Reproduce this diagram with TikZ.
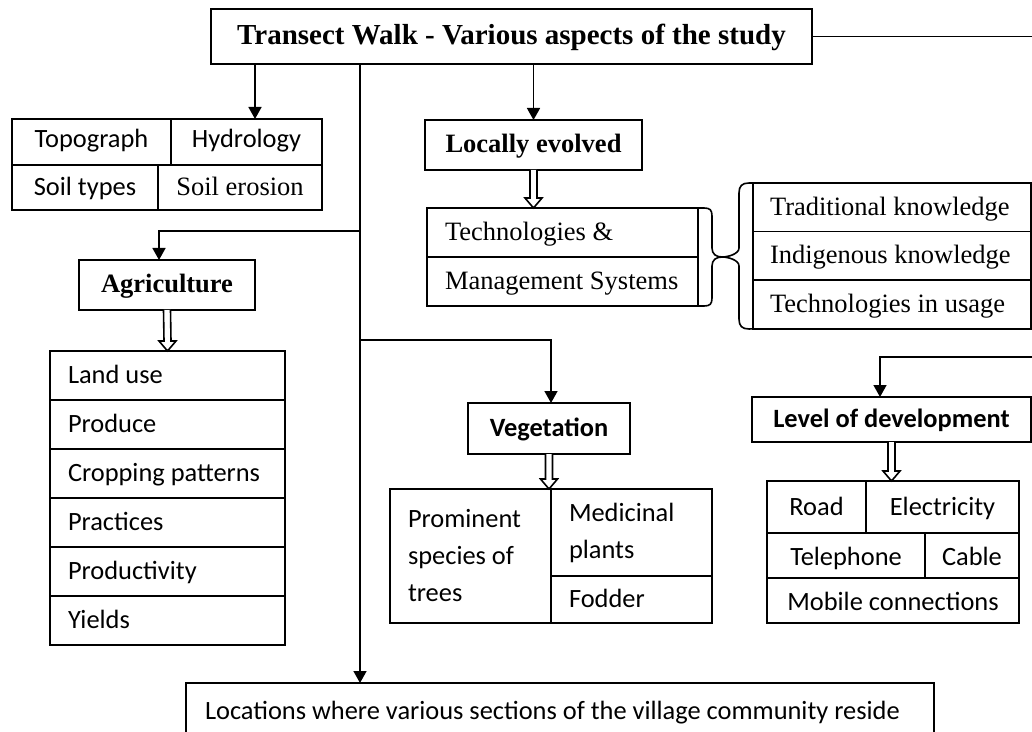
\documentclass[tikz,border=0pt]{standalone}
\usepackage{fontspec}
\setmainfont{Liberation Serif}
\setsansfont{Carlito}
\usetikzlibrary{arrows.meta,positioning}

\begin{document}
\begin{tikzpicture}[x=0.5pt,y=-0.5pt,line width=0.8pt,
  sf/.style={font=\sffamily\fontsize{13.2pt}{18.5pt}\selectfont},
  rm/.style={font=\rmfamily\fontsize{13.25pt}{18.5pt}\selectfont},
  bsf/.style={font=\sffamily\bfseries\fontsize{13.2pt}{16pt}\selectfont},
  brm/.style={font=\rmfamily\bfseries\fontsize{13.25pt}{16pt}\selectfont},
  box/.style={draw,inner sep=0pt,outer sep=0pt,text height=8pt,text depth=0pt},
  cell/.style={box,anchor=north west},
  lcell/.style={cell,align=flush left,inner xsep=9pt},
  mcell/.style={draw,inner sep=0pt,outer sep=0pt,anchor=north west,align=flush left,inner xsep=9pt},
  arr/.style={-{Triangle[length=6pt,width=6.5pt]}},
  hollow/.style={fill=white,to path={([xshift=-1.75pt]\tikztostart)
    -- ([xshift=-1.75pt,yshift=5pt]\tikztotarget) -- ([xshift=-4.25pt,yshift=5pt]\tikztotarget)
    -- (\tikztotarget) -- ([xshift=4.25pt,yshift=5pt]\tikztotarget)
    -- ([xshift=1.75pt,yshift=5pt]\tikztotarget) -- ([xshift=1.75pt]\tikztostart)}}]
  \useasboundingbox (0,0) rectangle (1032,732);

  \node[box,minimum width=300.5pt,minimum height=27.5pt,text height=8.5pt,
    font=\rmfamily\bfseries\fontsize{14.5pt}{17pt}\selectfont] (title) at (511.5,36.5)
    {Transect Walk - Various aspects of the study};
  \coordinate (trunk) at (360,0);
  \coordinate (colt) at (255,0);

  % physical features
  \node[cell,sf,minimum width=79.5pt,minimum height=23pt,text height=6pt] (topo) at (12,119) {Topograph};
  \node[cell,sf,minimum width=75.5pt,minimum height=23pt,text height=6pt,right=0pt of topo] (hydro) {Hydrology};
  \node[cell,sf,minimum width=73pt,minimum height=22.5pt,below=0pt of topo.south west,anchor=north west] (soil) {Soil types};
  \node[cell,rm,minimum width=82pt,minimum height=22.5pt,right=0pt of soil] (erosion) {Soil erosion};

  % agriculture
  \node[box,brm,minimum width=88pt,minimum height=25pt] (agri) at (167,285) {Agriculture};
  \node[lcell,sf,text width=99.5pt,minimum height=24.5pt] (land) at (50,351) {Land use};
  \node[lcell,sf,text width=99.5pt,minimum height=24.5pt,below=0pt of land] (produce) {Produce};
  \node[lcell,sf,text width=99.5pt,minimum height=24.5pt,below=0pt of produce] (crop) {Cropping patterns};
  \node[lcell,sf,text width=99.5pt,minimum height=24.5pt,below=0pt of crop] (pract) {Practices};
  \node[lcell,sf,text width=99.5pt,minimum height=24.5pt,below=0pt of pract] (prod) {Productivity};
  \node[lcell,sf,text width=99.5pt,minimum height=24.5pt,below=0pt of prod] (yield) {Yields};

  % locally evolved
  \node[box,brm,minimum width=108.5pt,minimum height=25pt] (local) at (533.5,145) {Locally evolved};
  \node[lcell,rm,text width=117.5pt,minimum height=24.5pt] (tech) at (427,208) {Technologies \&};
  \node[lcell,rm,text width=117.5pt,minimum height=24.5pt,below=0pt of tech] (mgmt) {Management Systems};
  \node[lcell,rm,inner xsep=8.5pt,text width=122pt,minimum height=24.3pt] (trad) at (753,183) {Traditional knowledge};
  \node[lcell,rm,inner xsep=8.5pt,text width=122pt,minimum height=24.3pt,below=0pt of trad] (indi) {Indigenous knowledge};
  \node[lcell,rm,inner xsep=8.5pt,text width=122pt,minimum height=24.3pt,below=0pt of indi] (usage) {Technologies in usage};
  \coordinate (tip) at (722,257);

  % vegetation
  \node[box,bsf,minimum width=81pt,minimum height=25.5pt] (veg) at (549,428.5) {Vegetation};
  \node[mcell,sf,text width=62.5pt,minimum height=67pt] (trees) at (390,489) {Prominent\\species of\\trees};
  \node[mcell,sf,text width=62.5pt,minimum height=43.5pt] (medi) at (551,489) {Medicinal\\plants};
  \node[lcell,sf,text width=62.5pt,minimum height=23.5pt,below=0pt of medi] (fodder) {Fodder};

  % development
  \node[box,bsf,minimum width=139.5pt,minimum height=22.5pt] (level) at (891.5,419.5) {Level of development};
  \node[cell,sf,minimum width=49.5pt,minimum height=26pt] (road) at (767,481) {Road};
  \node[cell,sf,minimum width=76.5pt,minimum height=26pt,right=0pt of road] (elec) {Electricity};
  \node[cell,sf,minimum width=79pt,minimum height=22.5pt,text height=10pt,below=0pt of road.south west,anchor=north west] (tel) {Telephone};
  \node[cell,sf,minimum width=47pt,minimum height=22.5pt,text height=10pt,right=0pt of tel] (cable) {Cable};
  \node[cell,sf,minimum width=126pt,minimum height=22.5pt,text height=10pt,below=0pt of tel.south west,anchor=north west] (mobile) {Mobile connections};

  \node[lcell,sf,inner xsep=9.5pt,text width=355pt,minimum height=26.5pt,text height=10pt] (place) at (186,683)
    {Locations where various sections of the village community reside};

  % connectors
  \coordinate (b1) at (360,231);
  \coordinate (b2) at (360,340);
  \draw[arr] (title.south -| colt) -- (topo.north -| colt);
  \draw[arr] (title.south -| local) -- (local.north);
  \draw[arr] (title.south -| trunk) -- (place.north -| trunk);
  \draw[arr] (b1) -| ([xshift=-4pt]agri.north);
  \draw[arr] (b2) -| ([xshift=1pt]veg.north);
  \draw[arr] (title.east) -- (1036,36.5) -- (1036,357) -| ([xshift=-5.75pt]level.north);

  \coordinate (h1) at (local.south |- tech.north);
  \coordinate (h2) at (veg.south |- trees.north);
  \coordinate (h3) at (level.south |- road.north);
  \draw[hollow] (agri.south) to (land.north);
  \draw[hollow] (local.south) to (h1);
  \draw[hollow] (veg.south) to (h2);
  \draw[hollow] (level.south) to (h3);

  % brace between the two tables
  \draw (tech.north east) -- (704,208) .. controls (710,208) and (712,210) .. (712,216)
    -- (712,248) .. controls (712,254) and (716,257) .. (tip)
    .. controls (716,257) and (712,260) .. (712,266) -- (712,298)
    .. controls (712,304) and (710,306) .. (704,306) -- (mgmt.south east);
  \draw (trad.north west) -- (749,183) .. controls (742,183) and (739,186) .. (739,193)
    -- (739,248) .. controls (739,254) and (728,257) .. (tip)
    .. controls (728,257) and (739,260) .. (739,266) -- (739,319)
    .. controls (739,326) and (742,329) .. (749,329) -- (usage.south west);
\end{tikzpicture}
\end{document}
